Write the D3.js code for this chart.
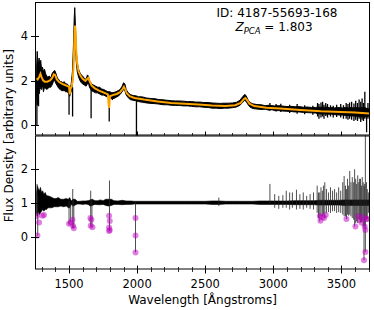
<!DOCTYPE html>
<html>
<head>
<meta charset="utf-8">
<script src="https://cdn.jsdelivr.net/npm/d3@7"></script>
<style>
  body { margin: 0; background: #fff; }
  text { font-family: "DejaVu Sans", sans-serif; fill: #000; }
</style>
</head>
<body>
<div id="chart"></div>
<script>
// observed spectrum (top panel), band of the noisy flux
var specWave = [1262,1266,1270,1275,1280,1286,1292,1298,1305,1312,1320,1328,1336,1345,1355,1365,1375,1385,1395,1405,1415,1425,1435,1445,1455,1465,1475,1485,1495,1505,1515,1525,1532,1538,1542,1546,1552,1560,1570,1580,1590,1600,1612,1625,1635,1642,1650,1665,1680,1695,1710,1725,1740,1755,1770,1785,1800,1815,1830,1845,1860,1875,1890,1900,1910,1920,1935,1950,1970,1990,2010,2040,2070,2100,2130,2160,2190,2220,2250,2280,2310,2340,2370,2400,2430,2460,2490,2520,2550,2580,2610,2640,2670,2700,2730,2755,2775,2790,2800,2815,2830,2850,2880,2910,2940,2970,2990,3010,3040,3070,3100,3130,3160,3190,3220,3250,3280,3310,3330,3345,3360,3375,3390,3410,3430,3450,3470,3490,3510,3530,3550,3570,3590,3610,3630,3645,3660,3675,3685,3695,3705];
var specHi = [2.6,3.3,2.9,2.7,3.0,2.6,2.9,2.5,2.6,2.4,2.5,2.3,2.2,2.15,2.2,2.1,2.3,2.4,2.45,2.3,2.1,2.05,1.95,1.95,1.9,1.95,1.85,1.85,1.8,1.7,1.8,2.4,3.5,4.8,5.25,4.6,3.4,2.8,2.5,2.35,2.25,2.2,2.1,2.05,2.25,2.2,2.0,1.85,1.8,1.75,1.7,1.7,1.62,1.6,1.55,1.5,1.5,1.45,1.47,1.5,1.55,1.6,1.75,1.9,1.85,1.6,1.45,1.38,1.33,1.32,1.28,1.27,1.22,1.2,1.19,1.15,1.14,1.12,1.1,1.09,1.09,1.08,1.06,1.06,1.04,1.04,1.02,1.02,1.0,0.99,0.98,0.99,0.99,1.0,1.03,1.12,1.28,1.38,1.33,1.13,1.02,0.96,0.93,0.92,0.88,0.9,0.88,0.87,0.88,0.86,0.84,0.85,0.83,0.84,0.81,0.82,0.8,0.8,0.82,0.8,0.83,0.8,0.82,0.79,0.8,0.78,0.8,0.79,0.78,0.8,0.78,0.8,0.78,0.8,0.78,0.8,0.78,0.8,0.76,0.75,0.72];
var specLo = [1.3,0.9,1.2,1.5,1.4,1.6,1.7,1.6,1.8,1.5,1.7,1.65,1.6,1.65,1.7,1.7,1.8,1.95,2.0,1.85,1.75,1.65,1.6,1.55,1.55,1.55,1.5,1.5,1.45,1.3,1.5,1.8,2.6,3.8,4.3,4.0,2.9,2.4,2.15,2.0,1.9,1.85,1.8,1.75,1.85,1.9,1.7,1.55,1.5,1.45,1.45,1.4,1.35,1.35,1.3,1.25,1.22,1.2,1.2,1.25,1.3,1.38,1.5,1.6,1.55,1.35,1.23,1.15,1.12,1.1,1.06,1.03,1.0,0.98,0.97,0.95,0.92,0.92,0.9,0.89,0.89,0.87,0.87,0.85,0.83,0.83,0.81,0.8,0.77,0.77,0.75,0.77,0.77,0.79,0.82,0.9,1.02,1.12,1.07,0.92,0.81,0.75,0.73,0.71,0.72,0.68,0.7,0.66,0.66,0.64,0.63,0.62,0.6,0.6,0.58,0.57,0.56,0.55,0.52,0.52,0.5,0.52,0.5,0.5,0.5,0.48,0.47,0.46,0.46,0.44,0.44,0.42,0.42,0.4,0.4,0.38,0.38,0.38,0.4,0.4,0.42];

// narrow lines / noise spikes in the observed spectrum
var dipWave = [1264,1276,1500,1526,1662,1795,1818,1995,2975,3020,3055,3120,3175,3230,3290,3325,3335,3350,3362,3372,3385,3398,3420,3440,3465,3495,3515,3535,3548,3560,3575,3592,3605,3618,3630,3642,3652,3662,3672,3685,3695];
var dipTop  = [2.2,1.8,1.6,1.7,1.7,1.3,1.3,1.2,1.0,0.95,0.97,0.92,0.95,0.9,0.88,1.0,0.95,1.02,1.05,0.92,1.0,0.95,0.9,0.88,0.92,0.95,0.9,1.0,0.95,1.02,1.05,0.98,1.1,1.0,1.15,1.05,1.2,1.0,1.5,0.6,1.0];
var dipLow  = [0.0,0.85,0.47,0.4,0.32,0.17,1.13,-0.6,0.66,0.62,0.6,0.55,0.52,0.5,0.48,0.4,0.3,0.35,0.4,0.3,0.42,0.35,0.4,0.35,0.38,0.35,0.3,0.3,0.25,0.3,0.25,0.2,0.25,0.2,0.3,0.15,0.25,0.2,0.3,-0.3,0.3];

// PCA reconstruction (orange)
var modelWave = [1262,1270,1280,1290,1298,1310,1322,1340,1360,1375,1388,1398,1410,1430,1450,1470,1490,1500,1505,1510,1520,1528,1535,1540,1544,1548,1553,1560,1570,1585,1600,1620,1635,1642,1650,1665,1690,1720,1760,1785,1791,1795,1800,1820,1850,1875,1893,1903,1912,1925,1945,1980,2050,2150,2250,2350,2450,2550,2650,2720,2760,2785,2795,2805,2825,2860,2950,3050,3200,3350,3500,3600,3705];
var modelFlux = [2.1,2.05,2.15,2.3,2.15,2.0,1.95,1.95,2.0,2.1,2.28,2.25,2.05,1.92,1.85,1.8,1.75,1.72,1.38,1.62,1.75,2.1,2.9,4.0,4.45,4.2,3.3,2.75,2.4,2.2,2.08,1.98,2.08,2.12,1.98,1.78,1.65,1.55,1.45,1.38,0.9,0.78,1.3,1.35,1.4,1.48,1.62,1.72,1.62,1.42,1.3,1.22,1.15,1.07,1.0,0.97,0.93,0.89,0.87,0.9,1.0,1.18,1.22,1.15,0.97,0.86,0.79,0.75,0.69,0.63,0.6,0.57,0.53];

// flux / model ratio (bottom panel)
var ratioWave = [1262,1268,1275,1282,1290,1298,1306,1315,1325,1335,1345,1360,1375,1390,1405,1420,1440,1460,1480,1495,1505,1515,1530,1545,1560,1580,1600,1620,1640,1655,1670,1690,1710,1730,1750,1770,1790,1810,1830,1860,1890,1920,1950,1980,2010,2050,2100,2150,2200,2250,2300,2350,2400,2450,2500,2550,2600,2650,2700,2750,2800,2850,2900,2950,3000,3050,3100,3150,3200,3250,3300,3330,3360,3400,3440,3480,3520,3560,3600,3640,3670,3705];
var ratioHi = [1.3,1.5,1.4,1.35,1.45,1.3,1.35,1.25,1.3,1.2,1.2,1.18,1.15,1.12,1.12,1.15,1.1,1.1,1.12,1.1,1.15,1.05,1.1,1.1,1.04,1.04,1.05,1.05,1.06,1.08,1.1,1.06,1.06,1.08,1.06,1.1,1.1,1.1,1.06,1.05,1.07,1.05,1.05,1.04,1.04,1.04,1.04,1.04,1.04,1.04,1.04,1.04,1.04,1.04,1.04,1.05,1.05,1.04,1.04,1.04,1.04,1.04,1.05,1.05,1.05,1.05,1.05,1.06,1.06,1.06,1.06,1.07,1.07,1.07,1.07,1.07,1.08,1.08,1.08,1.08,1.08,1.08];
var ratioLo = [0.7,0.6,0.75,0.65,0.7,0.75,0.8,0.75,0.8,0.8,0.85,0.85,0.85,0.88,0.88,0.88,0.9,0.88,0.9,0.85,0.85,0.95,0.9,0.93,0.96,0.96,0.95,0.96,0.95,0.9,0.92,0.95,0.94,0.94,0.95,0.92,0.9,0.92,0.95,0.95,0.94,0.95,0.95,0.96,0.96,0.96,0.96,0.96,0.96,0.96,0.96,0.96,0.96,0.96,0.96,0.95,0.95,0.96,0.96,0.96,0.96,0.96,0.95,0.95,0.95,0.95,0.95,0.94,0.94,0.94,0.94,0.93,0.93,0.93,0.93,0.93,0.92,0.92,0.92,0.92,0.92,0.92];

// sharp spikes in the ratio
var spikeWave = [1265,1270,1500,1512,1527,1535,1659,1668,1797,1988,2600,2975,3010,3040,3070,3095,3120,3140,3170,3195,3220,3245,3270,3295,3322,3332,3341,3350,3360,3368,3378,3390,3405,3420,3435,3450,3465,3480,3495,3510,3520,3530,3537,3545,3553,3561,3570,3580,3590,3597,3605,3612,3620,3628,3634,3640,3647,3653,3660,3666,3671,3676,3684,3690,3698];
var spikeHi   = [1.55,1.2,1.05,1.0,1.4,1.1,1.35,1.1,1.65,1.0,1.15,1.55,1.25,1.2,1.22,1.35,1.3,1.3,1.38,1.25,1.3,1.2,1.25,1.3,1.5,1.3,1.3,1.45,1.35,1.5,1.6,1.4,1.3,1.45,1.35,1.4,1.3,1.45,1.35,1.6,1.78,1.5,1.4,1.7,1.5,1.93,1.6,1.75,1.6,1.98,1.7,1.55,1.8,1.6,1.7,1.7,1.5,1.75,1.6,1.5,1.55,3.2,1.6,1.4,1.3];
var spikeLo   = [0.6,0.03,0.36,0.42,0.25,0.25,0.3,0.28,0.17,-0.46,0.9,0.95,0.85,0.82,0.85,0.85,0.8,0.85,0.8,0.82,0.8,0.85,0.82,0.8,0.7,0.55,0.45,0.6,0.6,0.65,0.55,0.7,0.72,0.7,0.75,0.75,0.7,0.72,0.7,0.65,0.6,0.6,0.52,0.65,0.62,0.65,0.6,0.55,0.5,0.3,0.4,0.45,0.4,0.5,0.5,0.42,0.42,0.45,0.3,-0.69,0.3,-0.45,0.5,0.52,0.7];

// masked pixels (magenta)
var maskWave  = [1265,1280,1268,1305,1316,1500,1512,1525,1529,1535,1657,1664,1659,1672,1794,1799,1794,1799,1794,1988,1988,1988,3341,3346,3360,3372,3385,3537,3603,3622,3634,3647,3659,3671,3676,3684,3688,3676,3666];
var maskRatio = [0.61,0.42,0.04,0.62,0.64,0.38,0.42,0.5,0.32,0.25,0.55,0.5,0.32,0.28,0.62,0.46,0.27,0.2,0.17,0.55,0.04,-0.46,0.61,0.47,0.58,0.55,0.64,0.52,0.3,0.61,0.5,0.42,0.58,0.3,0.2,0.52,0.52,-0.45,-0.69];

var xTicks = [1500, 2000, 2500, 3000, 3500];
var xMinor = d3.range(1300, 3701, 100);
var topTicks = [0, 2, 4];
var botTicks = [0, 1, 2];

var W = 374, H = 310;
var left = 35, right = 370;
var topY0 = 2, topY1 = 135.5, botY0 = 135.5, botY1 = 269.5;

var svg = d3.select("#chart").append("svg")
  .attr("width", W)
  .attr("height", H);

var x = d3.scaleLinear().domain([1250, 3710]).range([left, right]);
var yTop = d3.scaleLinear().domain([-0.45, 5.5]).range([topY1, topY0]);
var yBot = d3.scaleLinear().domain([-0.96, 2.97]).range([botY1, botY0]);

svg.append("clipPath").attr("id", "clipTop")
  .append("rect").attr("x", left).attr("y", topY0).attr("width", right - left).attr("height", topY1 - topY0);
svg.append("clipPath").attr("id", "clipBot")
  .append("rect").attr("x", left).attr("y", botY0).attr("width", right - left).attr("height", botY1 - botY0);

// ---- top panel
var gTop = svg.append("g").attr("clip-path", "url(#clipTop)");

var spec = specWave.map(function(w, i) { return {w: w, hi: specHi[i], lo: specLo[i]}; });
gTop.append("path")
  .datum(spec)
  .attr("d", d3.area().x(function(d){ return x(d.w); }).y0(function(d){ return yTop(d.lo); }).y1(function(d){ return yTop(d.hi); }))
  .attr("fill", "#000")
  .attr("stroke", "#000")
  .attr("stroke-width", 1);

gTop.selectAll("line.dip")
  .data(dipWave)
  .enter()
  .append("line")
    .attr("x1", function(d){ return x(d); })
    .attr("x2", function(d){ return x(d); })
    .attr("y1", function(d, i){ return yTop(dipTop[i]); })
    .attr("y2", function(d, i){ return yTop(dipLow[i]); })
    .attr("stroke", "#000")
    .attr("stroke-width", 1.3);

var model = modelWave.map(function(w, i) { return [w, modelFlux[i]]; });
gTop.append("path")
  .datum(model)
  .attr("d", d3.line().x(function(d){ return x(d[0]); }).y(function(d){ return yTop(d[1]); }))
  .attr("fill", "none")
  .attr("stroke", "#FFA500")
  .attr("stroke-width", 2);

// ---- bottom panel
var gBot = svg.append("g").attr("clip-path", "url(#clipBot)");

var ratio = ratioWave.map(function(w, i) { return {w: w, hi: ratioHi[i], lo: ratioLo[i]}; });
gBot.append("path")
  .datum(ratio)
  .attr("d", d3.area().x(function(d){ return x(d.w); }).y0(function(d){ return yBot(d.lo); }).y1(function(d){ return yBot(d.hi); }))
  .attr("fill", "#000")
  .attr("stroke", "#000")
  .attr("stroke-width", 0.6);

gBot.selectAll("line.spike")
  .data(spikeWave)
  .enter()
  .append("line")
    .attr("x1", function(d){ return x(d); })
    .attr("x2", function(d){ return x(d); })
    .attr("y1", function(d, i){ return yBot(spikeHi[i]); })
    .attr("y2", function(d, i){ return yBot(spikeLo[i]); })
    .attr("stroke", "#222")
    .attr("stroke-width", 0.8);

gBot.selectAll("circle")
  .data(maskWave)
  .enter()
  .append("circle")
    .attr("cx", function(d){ return x(d); })
    .attr("cy", function(d, i){ return yBot(maskRatio[i]); })
    .attr("r", 3)
    .attr("fill", "#c000c0")
    .attr("fill-opacity", 0.5);

// ---- frames
[[topY0, topY1], [botY0, botY1]].forEach(function(p) {
  svg.append("rect")
    .attr("x", left + 0.5).attr("y", p[0] + 0.5)
    .attr("width", right - left - 1).attr("height", p[1] - p[0] - 1)
    .attr("fill", "none").attr("stroke", "#000").attr("stroke-width", 1);
});

// x ticks: inward on top panel bottom, in-out on bottom panel
svg.selectAll("line.tmaj").data(xTicks).enter().append("line")
  .attr("x1", function(d){ return Math.round(x(d)) + 0.5; }).attr("x2", function(d){ return Math.round(x(d)) + 0.5; })
  .attr("y1", topY1 - 4).attr("y2", topY1).attr("stroke", "#000");
svg.selectAll("line.tmin").data(xMinor).enter().append("line")
  .attr("x1", function(d){ return Math.round(x(d)) + 0.5; }).attr("x2", function(d){ return Math.round(x(d)) + 0.5; })
  .attr("y1", topY1 - 2.5).attr("y2", topY1).attr("stroke", "#000").attr("stroke-width", 0.8);

svg.selectAll("line.bmaj").data(xTicks).enter().append("line")
  .attr("x1", function(d){ return Math.round(x(d)) + 0.5; }).attr("x2", function(d){ return Math.round(x(d)) + 0.5; })
  .attr("y1", botY1 - 4).attr("y2", botY1 + 4).attr("stroke", "#000");
svg.selectAll("line.bmin").data(xMinor).enter().append("line")
  .attr("x1", function(d){ return Math.round(x(d)) + 0.5; }).attr("x2", function(d){ return Math.round(x(d)) + 0.5; })
  .attr("y1", botY1 - 2.5).attr("y2", botY1 + 2.5).attr("stroke", "#000").attr("stroke-width", 0.8);

svg.selectAll("text.xl").data(xTicks).enter().append("text")
  .attr("x", function(d){ return x(d); })
  .attr("y", botY1 + 18)
  .attr("text-anchor", "middle")
  .style("font-size", "11.5px")
  .text(function(d){ return d; });

// y ticks
function yAxisTicks(scale, ticks) {
  svg.selectAll(null).data(ticks).enter().append("line")
    .attr("x1", left - 4).attr("x2", left + 4)
    .attr("y1", function(d){ return Math.round(scale(d)) + 0.5; })
    .attr("y2", function(d){ return Math.round(scale(d)) + 0.5; })
    .attr("stroke", "#000");
  svg.selectAll(null).data(ticks).enter().append("text")
    .attr("x", left - 7)
    .attr("y", function(d){ return scale(d) + 4; })
    .attr("text-anchor", "end")
    .style("font-size", "11.5px")
    .text(function(d){ return d; });
}
yAxisTicks(yTop, topTicks);
yAxisTicks(yBot, botTicks);

// labels
svg.append("text")
  .attr("x", (left + right) / 2)
  .attr("y", 304)
  .attr("text-anchor", "middle")
  .style("font-size", "12px")
  .text("Wavelength [Ångstroms]");

svg.append("text")
  .attr("transform", "translate(13," + (topY0 + botY1) / 2 + ") rotate(-90)")
  .attr("text-anchor", "middle")
  .style("font-size", "12px")
  .text("Flux Density [arbitrary units]");

svg.append("text")
  .attr("x", 277)
  .attr("y", 17)
  .attr("text-anchor", "middle")
  .style("font-size", "12px")
  .text("ID: 4187-55693-168");

var zt = svg.append("text")
  .attr("x", 274)
  .attr("y", 31)
  .attr("text-anchor", "middle")
  .style("font-size", "12px");
zt.append("tspan").style("font-style", "italic").text("Z");
zt.append("tspan").style("font-style", "italic").style("font-size", "8.5px").attr("dy", 3).text("PCA");
zt.append("tspan").attr("dy", -3).text(" = 1.803");
</script>
</body>
</html>
